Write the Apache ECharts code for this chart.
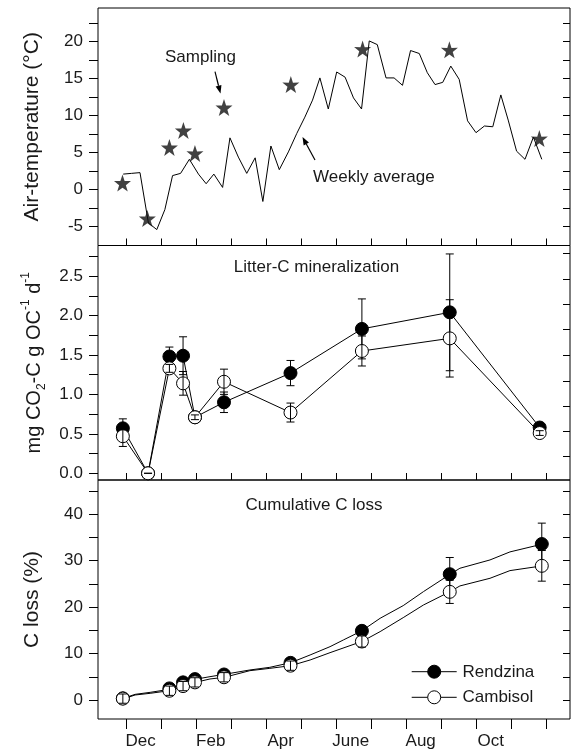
<!DOCTYPE html>
<html>
<head>
<meta charset="utf-8">
<script src="https://cdn.jsdelivr.net/npm/echarts@6/dist/echarts.min.js"></script>
<style>
html,body{margin:0;padding:0;background:#fff;}
#chart{width:575px;height:752px;}
</style>
</head>
<body>
<div id="chart"></div>
<script>
// ---------- DATA (x in months after 1 Dec) ----------
const monthTicks = [0,1,2,3,4,5,6,7,8,9,10,11,12];
const monthLabelPos = [0.4, 2.4, 4.4, 6.4, 8.4, 10.4];
const monthLabels = ['Dec','Feb','Apr','June','Aug','Oct'];

// Panel 1: weekly average air temperature
const weekX = [-0.10,0.14,0.38,0.62,0.86,1.09,1.31,1.54,1.79,2.05,2.27,2.49,2.74,2.95,3.19,3.43,3.67,3.89,4.12,4.36,4.62,4.86,5.09,5.31,5.52,5.76,6.00,6.24,6.48,6.71,6.93,7.16,7.41,7.64,7.88,8.11,8.36,8.59,8.81,9.03,9.26,9.50,9.74,9.98,10.22,10.46,10.69,10.90,11.14,11.38,11.62,11.86];
const weekTemp = [2.1,2.2,2.3,-4.5,-5.4,-2.7,1.9,2.2,4.1,2.1,0.8,2.1,0.3,7.0,4.4,2.2,4.3,-1.6,5.9,2.7,5.1,7.6,9.8,12.1,15.1,10.9,15.9,15.2,12.4,10.9,20.1,19.6,15.1,15.1,14.1,18.8,18.4,15.8,14.2,14.5,16.7,14.9,9.3,7.7,8.6,8.5,12.8,9.4,5.2,4.1,7.1,4.1];
// sampling stars
const starX = [-0.12,0.59,1.22,1.62,1.95,2.78,4.69,6.74,9.22,11.79];
const starTemp = [0.9,-3.9,5.7,8.0,4.9,11.1,14.2,19.0,18.9,6.9];

// Panel 2: litter-C mineralization
const sampX = [-0.11,0.61,1.22,1.61,1.95,2.78,4.68,6.72,9.23,11.80];
const rendMin = [0.57,0.00,1.48,1.49,0.71,0.90,1.27,1.83,2.04,0.58];
const rendMinErr = [0.12,0,0.12,0.24,0.03,0.13,0.16,0.38,0.74,0.03];
const cambMin = [0.47,0.00,1.33,1.14,0.71,1.16,0.77,1.55,1.71,0.51];
const cambMinErr = [0.13,0,0.05,0.15,0.03,0.16,0.12,0.19,0.49,0.03];

// Panel 3: cumulative C loss
const cumX = [-0.11,1.22,1.61,1.95,2.78,4.68,6.72,9.23,11.86];
const rendCum = [0.36,2.5,3.8,4.5,5.5,8.0,14.9,27.1,33.6];
const rendCumErr = [0.9,0.9,0.9,0.9,0.9,0.9,1.0,3.6,4.5];
const cambCum = [0.3,2.0,3.0,3.8,4.9,7.4,12.6,23.3,28.9];
const cambCumErr = [1.0,1.0,1.0,1.0,1.0,1.0,1.2,2.5,3.3];
// curves between samplings
const rendCurveX = [-0.10,0.24,0.67,1.22,1.62,1.95,2.38,2.79,3.52,4.09,4.69,5.24,5.81,6.19,6.71,7.24,7.90,8.48,9.24,9.52,10.38,10.95,11.86];
const rendCurveY = [0.36,1.22,1.65,2.3,3.59,4.45,5.03,5.53,6.47,7.04,8.05,9.7,11.49,12.93,14.87,17.6,20.33,23.35,27.08,28.38,30.17,31.9,33.55];
const cambCurveX = [-0.10,0.24,0.67,1.22,1.62,1.97,2.38,2.79,3.52,4.09,4.69,5.24,5.81,6.73,7.24,7.90,8.48,9.24,9.52,10.38,10.95,11.86];
const cambCurveY = [0.22,1.08,1.44,2.01,3.02,3.81,4.53,4.89,6.32,6.82,7.4,8.62,10.2,12.64,14.73,17.74,20.47,23.35,24.57,26.22,27.87,28.88];

// axis ticks
const tempTicks = [-5,-2.5,0,2.5,5,7.5,10,12.5,15,17.5,20,22.5];
const tempLabels = [-5,0,5,10,15,20];
const minTicks = [0,0.25,0.5,0.75,1,1.25,1.5,1.75,2,2.25,2.5,2.75];
const minLabels = [0,0.5,1,1.5,2,2.5];
const minRightTicks = [0.21,0.53,0.85,1.17,1.50,1.82,2.14,2.46,2.79];
const cumTicks = [0,5,10,15,20,25,30,35,40,45];
const cumLabels = [0,10,20,30,40];

// ---------- CHART ----------
const FONT = '"Liberation Sans", Arial, Helvetica, sans-serif';
const TXT = '#1a1a1a';
const zip = (a, b) => a.map((v, i) => [v, b[i]]);
const errData = (xs, ys, es) => xs.map((x, i) => [x, ys[i] - es[i], ys[i] + es[i]]);
const STAR = 'path://M50,0 L61.8,35.1 L97.6,34.5 L68.8,56.9 L79.4,90.5 L50,70 L20.6,90.5 L31.2,56.9 L2.4,34.5 L38.2,35.1 Z';

function errRender(params, api) {
  const x = api.value(0), lo = api.value(1), hi = api.value(2);
  const p1 = api.coord([x, hi]), p2 = api.coord([x, lo]);
  const w = 4, st = {stroke:'#000', lineWidth:1};
  return {type:'group', children:[
    {type:'line', shape:{x1:p1[0], y1:p1[1], x2:p2[0], y2:p2[1]}, style:st},
    {type:'line', shape:{x1:p1[0]-w, y1:p1[1], x2:p1[0]+w, y2:p1[1]}, style:st},
    {type:'line', shape:{x1:p2[0]-w, y1:p2[1], x2:p2[0]+w, y2:p2[1]}, style:st}
  ]};
}

const gridL = 98, gridW = 472;
const grids = [
  {left:gridL, top:8, width:gridW, height:237.5},
  {left:gridL, top:245.5, width:gridW, height:234.5},
  {left:gridL, top:480, width:gridW, height:239}
].map(g => Object.assign(g, {show:true, borderColor:'#000', borderWidth:1, backgroundColor:'transparent'}));

function xAx(i, showLabels) {
  return {
    type:'value', gridIndex:i, min:-0.82, max:12.666, position:'bottom',
    axisLine:{show:false, onZero:false}, splitLine:{show:false},
    axisTick:{show:true, inside:!showLabels, length: showLabels ? 10 : 7, customValues:monthTicks, lineStyle:{color:'#000', width:1}},
    axisLabel:{show:showLabels, customValues:monthLabelPos, margin:14, fontSize:17, fontFamily:FONT, color:TXT,
      formatter: v => { const k = monthLabelPos.findIndex(p => Math.abs(p - v) < 1e-6); return k >= 0 ? monthLabels[k] : ''; }}
  };
}
function yLeft(i, min, max, ticks, labels, fmt, name, gap, nameStyle) {
  return {
    type:'value', gridIndex:i, min:min, max:max, position:'left',
    axisLine:{show:false, onZero:false}, splitLine:{show:false},
    axisTick:{show:true, inside:false, length:9, customValues:ticks, lineStyle:{color:'#000', width:1}},
    axisLabel:{customValues:labels, margin:15, fontSize:17, fontFamily:FONT, color:TXT, formatter:fmt},
    name:name, nameLocation:'middle', nameRotate:90, nameGap:gap,
    nameTextStyle:nameStyle
  };
}
function yRight(i, min, max, ticks) {
  return {
    type:'value', gridIndex:i, min:min, max:max, position:'right',
    axisLine:{show:false, onZero:false}, splitLine:{show:false},
    axisTick:{show:true, inside:true, length:7, customValues:ticks, lineStyle:{color:'#000', width:1}},
    axisLabel:{show:false}
  };
}
const nameStyle = {fontSize:21, fontFamily:FONT, color:TXT};
const richName = {
  fontFamily:FONT, color:TXT,
  rich:{
    a:{fontSize:20, fontFamily:FONT, color:TXT, lineHeight:28, verticalAlign:'middle'},
    b:{fontSize:12, fontFamily:FONT, color:TXT, lineHeight:28, verticalAlign:'bottom'},
    c:{fontSize:12, fontFamily:FONT, color:TXT, lineHeight:28, verticalAlign:'top'}
  }
};

function arrow(x1, y1, x2, y2) {
  const a = Math.atan2(y2 - y1, x2 - x1), L = 8, W = 3;
  const bx = x2 - L * Math.cos(a), by = y2 - L * Math.sin(a);
  const nx = -Math.sin(a) * W, ny = Math.cos(a) * W;
  return [
    {type:'line', shape:{x1:x1, y1:y1, x2:bx, y2:by}, style:{stroke:'#000', lineWidth:1.2}},
    {type:'polygon', shape:{points:[[x2,y2],[bx+nx,by+ny],[bx-nx,by-ny]]}, style:{fill:'#000'}}
  ];
}
const textStyle = (t, x, y, align) => ({type:'text', x:x, y:y, style:{text:t, font:'17px ' + FONT, fill:TXT, textAlign:align || 'left', textVerticalAlign:'middle'}});

function legendRow(y, filled, label) {
  return [
    {type:'line', shape:{x1:411.7, y1:y, x2:456.7, y2:y}, style:{stroke:'#000', lineWidth:1}},
    {type:'circle', shape:{cx:434.2, cy:y, r:6.5}, style:{fill: filled ? '#000' : '#fff', stroke:'#000', lineWidth:1}},
    textStyle(label, 462.5, y + 0.5)
  ];
}

const option = {
  animation:false,
  backgroundColor:'#fff',
  grid:grids,
  xAxis:[xAx(0,false), xAx(1,false), xAx(2,true)],
  yAxis:[
    yLeft(0, -7.55, 24.55, tempTicks, tempLabels, v => String(v), 'Air-temperature (°C)', 55, nameStyle),
    yRight(0, -7.55, 24.55, tempTicks),
    yLeft(1, -0.085, 2.887, minTicks, minLabels, v => v.toFixed(1), '{a|mg CO}{b|2}{a|-C g OC}{c|-1}{a| d}{c|-1}', 50, richName),
    yRight(1, -0.085, 2.887, minRightTicks),
    yLeft(2, -4.09, 47.39, cumTicks, cumLabels, v => String(v), 'C loss (%)', 55, nameStyle),
    yRight(2, -4.09, 47.39, cumTicks)
  ],
  series:[
    // panel 1
    {type:'line', xAxisIndex:0, yAxisIndex:0, data:zip(weekX, weekTemp), symbol:'none', lineStyle:{color:'#000', width:1}, z:2},
    {type:'scatter', xAxisIndex:0, yAxisIndex:0, data:zip(starX, starTemp), symbol:STAR, symbolSize:17, itemStyle:{color:'#111'}, z:3},
    // panel 2
    {name:'Rendzina', type:'line', xAxisIndex:1, yAxisIndex:2, data:zip(sampX, rendMin), symbol:'circle', symbolSize:13, showAllSymbol:true,
      lineStyle:{color:'#000', width:1}, itemStyle:{color:'#000', borderColor:'#000', borderWidth:1}, z:2},
    {type:'custom', xAxisIndex:1, yAxisIndex:2, data:errData(sampX, rendMin, rendMinErr), renderItem:errRender, z:3},
    {name:'Cambisol', type:'line', xAxisIndex:1, yAxisIndex:2, data:zip(sampX, cambMin), symbol:'circle', symbolSize:13, showAllSymbol:true,
      lineStyle:{color:'#000', width:1}, itemStyle:{color:'#fff', borderColor:'#000', borderWidth:1}, z:4},
    {type:'custom', xAxisIndex:1, yAxisIndex:2, data:errData(sampX, cambMin, cambMinErr), renderItem:errRender, z:5},
    // panel 3
    {type:'line', xAxisIndex:2, yAxisIndex:4, data:zip(rendCurveX, rendCurveY), symbol:'none', lineStyle:{color:'#000', width:1}, z:2},
    {type:'line', xAxisIndex:2, yAxisIndex:4, data:zip(cambCurveX, cambCurveY), symbol:'none', lineStyle:{color:'#000', width:1}, z:2},
    {type:'scatter', xAxisIndex:2, yAxisIndex:4, data:zip(cumX, rendCum), symbol:'circle', symbolSize:13, itemStyle:{color:'#000', borderColor:'#000', borderWidth:1, opacity:1}, z:3},
    {type:'custom', xAxisIndex:2, yAxisIndex:4, data:errData(cumX, rendCum, rendCumErr), renderItem:errRender, z:4},
    {type:'scatter', xAxisIndex:2, yAxisIndex:4, data:zip(cumX, cambCum), symbol:'circle', symbolSize:13, itemStyle:{color:'#fff', borderColor:'#000', borderWidth:1, opacity:1}, z:5},
    {type:'custom', xAxisIndex:2, yAxisIndex:4, data:errData(cumX, cambCum, cambCumErr), renderItem:errRender, z:6}
  ],
  graphic:[
    textStyle('Sampling', 165, 57),
    ...arrow(215, 71.7, 220.5, 93.5),
    textStyle('Weekly average', 313, 177),
    ...arrow(315, 160, 302.5, 137),
    textStyle('Litter-C mineralization', 316.5, 267, 'center'),
    textStyle('Cumulative C loss', 314, 505, 'center'),
    ...legendRow(671.7, true, 'Rendzina'),
    ...legendRow(697.3, false, 'Cambisol')
  ]
};

const chart = echarts.init(document.getElementById('chart'), null, {renderer:'canvas'});
chart.setOption(option);
</script>
</body>
</html>
